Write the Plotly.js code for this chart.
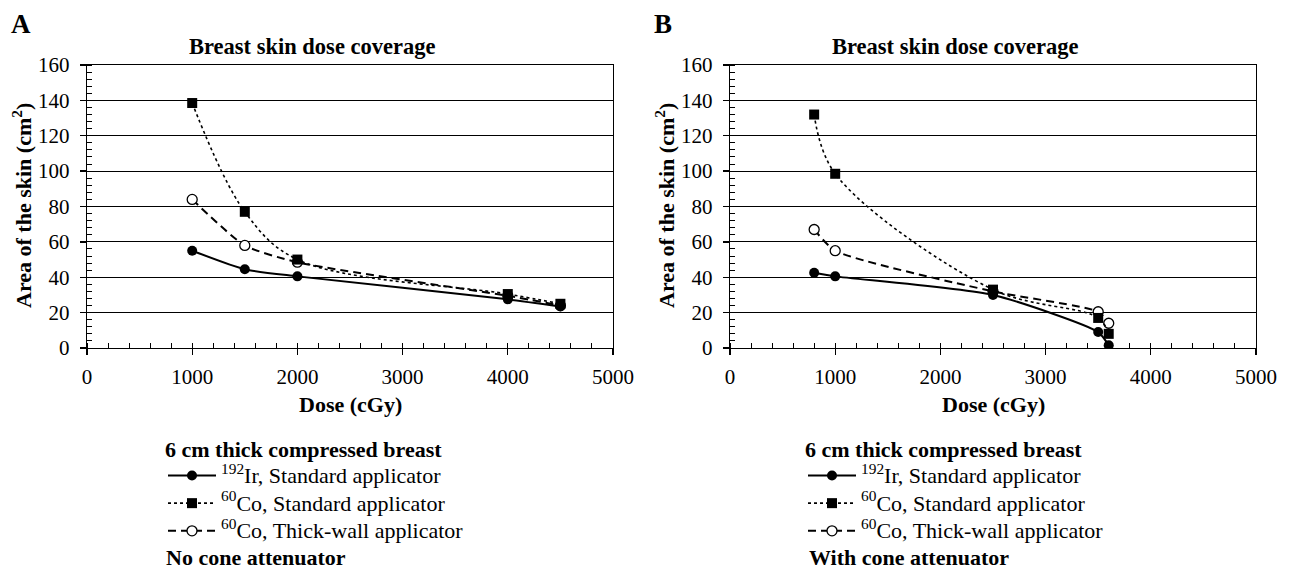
<!DOCTYPE html>
<html>
<head>
<meta charset="utf-8">
<script src="https://cdn.plot.ly/plotly-3.0.1.min.js"></script>
<style>html,body{margin:0;padding:0;background:#fff;}#chart{width:1290px;height:576px;}</style>
</head>
<body>
<div id="chart"></div>
<script>
// ---- data ----
const doseA = [1000, 1500, 2000, 4000, 4500];
const irStdA = [55, 44.5, 40.5, 27.5, 23.5];
const coStdA = [138.5, 77, 50, 30.5, 25];
const coThickA = [84, 58, 48.5, 29.5, 24];

const doseB = [800, 1000, 2500, 3500, 3600];
const irStdB = [42.5, 40.5, 30, 9, 1.5];
const coStdB = [132, 98.5, 33, 17, 8];
const coThickB = [67, 55, 32, 20.5, 14];

const seriesNames = [
  '<sup>192</sup>Ir, Standard applicator',
  '<sup>60</sup>Co, Standard applicator',
  '<sup>60</sup>Co, Thick-wall applicator'
];
const panelLabels = ['A', 'B'];
const chartTitle = 'Breast skin dose coverage';
const xTitle = 'Dose (cGy)';
const yTitle = 'Area of the skin (cm<sup>2</sup>)';
const legendTitle = '6 cm thick compressed breast';
const panelNotes = ['No cone attenuator', 'With cone attenuator'];

// ---- layout helpers ----
const W = 1290, H = 576;
const px = v => v / W;
const py = v => 1 - v / H;
const FONT = 'Liberation Serif';
const big = s => '<span style="font-size:22px">' + s + '</span>';

function mkTraces(dose, ir, co, thick, xa, ya, leg) {
  const common = {x: dose, xaxis: xa, yaxis: ya, legend: leg, mode: 'lines+markers', hoverinfo: 'x+y'};
  return [
    Object.assign({}, common, {
      y: thick, name: big(seriesNames[2]), legendrank: 3,
      line: {color: 'black', width: 2, dash: '8px,5px', shape: 'spline', smoothing: 0.6},
      marker: {symbol: 'circle', size: 10, color: 'white', line: {color: 'black', width: 1.3}}
    }),
    Object.assign({}, common, {
      y: co, name: big(seriesNames[1]), legendrank: 2,
      line: {color: 'black', width: 1.6, dash: 'dot', shape: 'spline', smoothing: 1},
      marker: {symbol: 'square', size: 10, color: 'black'}
    }),
    Object.assign({}, common, {
      y: ir, name: big(seriesNames[0]), legendrank: 1,
      line: {color: 'black', width: 2, shape: 'spline', smoothing: 0.6},
      marker: {symbol: 'circle', size: 10, color: 'black'}
    })
  ];
}

const data = [].concat(
  mkTraces(doseA, irStdA, coStdA, coThickA, 'x', 'y', 'legend'),
  mkTraces(doseB, irStdB, coStdB, coThickB, 'x2', 'y2', 'legend2')
);

function xax(dom, anchor) {
  return {
    domain: dom, anchor: anchor, range: [0, 5000], dtick: 1000, tick0: 0,
    showgrid: false, zeroline: false, showline: true, mirror: true,
    linecolor: 'black', linewidth: 1.3,
    ticks: 'outside', ticklen: 6, tickcolor: 'black', tickwidth: 1.3,
    minor: {dtick: 200, ticks: 'inside', ticklen: 5, tickcolor: 'black', tickwidth: 1, showgrid: false},
    tickfont: {family: FONT, size: 21, color: 'black'},
    ticklabelstandoff: 3, fixedrange: true
  };
}
function yax(anchor) {
  return {
    domain: [1 - 348 / H, 1 - 65 / H], anchor: anchor, range: [0, 160], dtick: 20, tick0: 0,
    showgrid: true, gridcolor: 'black', gridwidth: 1.2, zeroline: false,
    showline: true, mirror: true, linecolor: 'black', linewidth: 1.3,
    ticks: 'outside', ticklen: 6, tickcolor: 'black', tickwidth: 1.3,
    minor: {dtick: 4, ticks: 'inside', ticklen: 5, tickcolor: 'black', tickwidth: 1, showgrid: false},
    tickfont: {family: FONT, size: 21, color: 'black'},
    ticklabelstandoff: 6, fixedrange: true
  };
}
function legendCfg(xLeft) {
  return {
    x: px(xLeft), xanchor: 'left', y: py(428), yanchor: 'top',
    bgcolor: 'rgba(0,0,0,0)', borderwidth: 0,
    title: {text: '<b>' + legendTitle + '</b>', font: {family: FONT, size: 22, color: 'black'}, side: 'top'},
    font: {family: FONT, size: 19, color: 'black'},
    traceorder: 'normal', itemwidth: 48, tracegroupgap: 0, itemclick: false, itemdoubleclick: false
  };
}

const offsets = [0, 643];
const annotations = [];
offsets.forEach((o, i) => {
  annotations.push(
    {text: '<b>' + panelLabels[i] + '</b>', x: px(9 + o), y: py(24), xref: 'paper', yref: 'paper',
     xanchor: 'left', yanchor: 'middle', showarrow: false, font: {family: FONT, size: 27, color: 'black'}},
    {text: '<b>' + chartTitle + '</b>', x: px(312 + o), y: py(47), xref: 'paper', yref: 'paper',
     xanchor: 'center', yanchor: 'middle', showarrow: false, font: {family: FONT, size: 22.5, color: 'black'}},
    {text: '<b>' + yTitle + '</b>', x: px(22 + o), y: py(206), xref: 'paper', yref: 'paper', textangle: -90,
     xanchor: 'center', yanchor: 'middle', showarrow: false, font: {family: FONT, size: 22, color: 'black'}},
    {text: '<b>' + xTitle + '</b>', x: px(350 + o), y: py(404), xref: 'paper', yref: 'paper',
     xanchor: 'center', yanchor: 'middle', showarrow: false, font: {family: FONT, size: 22, color: 'black'}},
    {text: '<b>' + panelNotes[i] + '</b>', x: px(164 + o), y: py(557), xref: 'paper', yref: 'paper',
     xanchor: 'left', yanchor: 'middle', showarrow: false, font: {family: FONT, size: 22, color: 'black'}}
  );
});

const layout = {
  width: W, height: H, margin: {l: 0, r: 0, t: 0, b: 0},
  paper_bgcolor: 'white', plot_bgcolor: 'white',
  font: {family: FONT, color: 'black'},
  showlegend: true,
  xaxis: xax([px(87), px(613)], 'y'),
  yaxis: yax('x'),
  xaxis2: xax([px(730), px(1256)], 'y2'),
  yaxis2: yax('x2'),
  legend: legendCfg(163),
  legend2: legendCfg(803),
  annotations: annotations
};

Plotly.newPlot('chart', data, layout, {staticPlot: true, displayModeBar: false});
</script>
</body>
</html>
